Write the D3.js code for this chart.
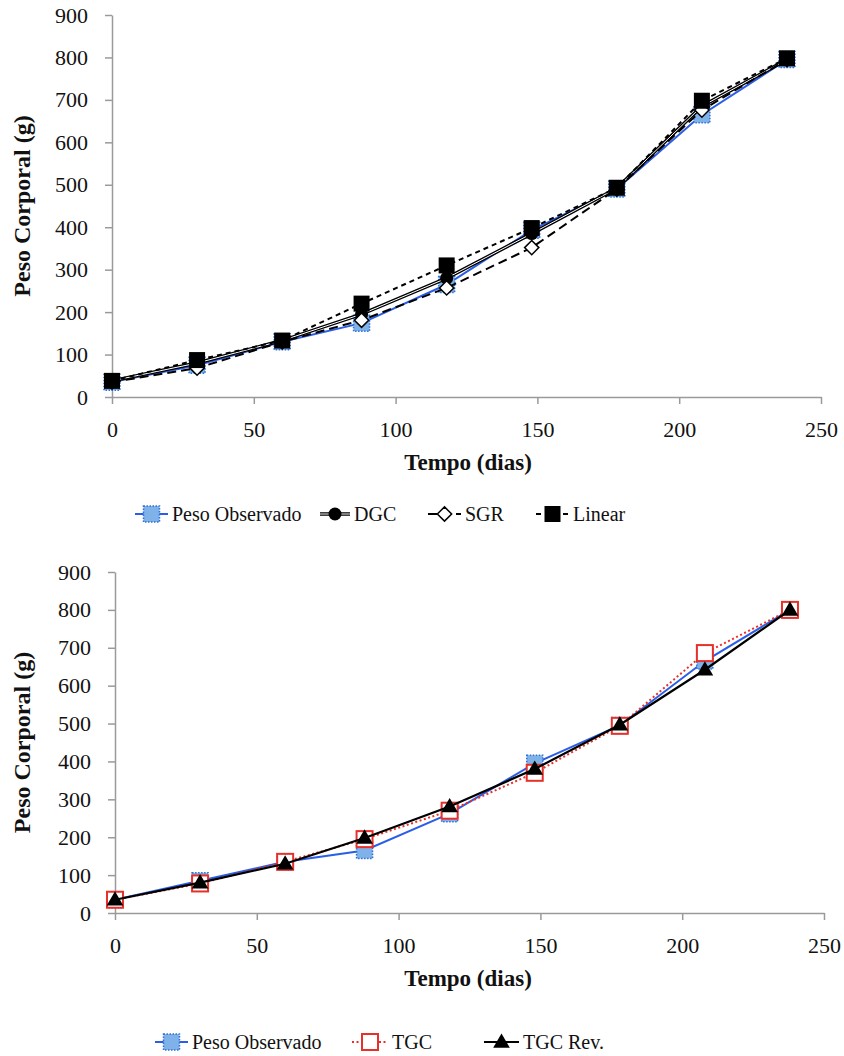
<!DOCTYPE html>
<html>
<head>
  <meta charset="utf-8">
  <script src="https://d3js.org/d3.v7.min.js"></script>
  <style>
    body { margin: 0; background: #fff; }
    svg text { font-family: "Liberation Serif", "DejaVu Serif", "Times New Roman", serif; fill: #111; }
    .axis path, .axis line { stroke: #9a9a9a; stroke-width: 1.5; }
    .title { font-weight: bold; }
  </style>
</head>
<body>
<div id="chart"></div>
<script>
// days of each weighing
var days = [0, 30, 60, 88, 118, 148, 178, 208, 238];

// top chart
var observedTop = [35, 75, 130, 174, 265, 393, 490, 665, 795];
var dgc = [38, 80, 133, 195, 280, 385, 492, 685, 795];
var sgr = [35, 68, 130, 181, 257, 352, 490, 676, 795];
var linear = [38, 87, 133, 220, 310, 398, 493, 698, 798];

// bottom chart
var observedBottom = [35, 85, 135, 165, 262, 395, 495, 665, 800];
var tgc = [35, 78, 135, 195, 270, 370, 494, 686, 800];
var tgcRev = [35, 80, 130, 198, 281, 380, 497, 642, 800];

var xTicks = [0, 50, 100, 150, 200, 250];
var yTicks = [0, 100, 200, 300, 400, 500, 600, 700, 800, 900];

var svg = d3.select("#chart").append("svg")
  .attr("width", 844)
  .attr("height", 1056);

// marker drawing
function drawMarker(g, kind, cx, cy) {
  if (kind == "obs") {
    g.append("rect").attr("x", cx - 8).attr("y", cy - 8).attr("width", 16).attr("height", 16)
      .attr("fill", "#7fb2e8").attr("stroke", "#2f6fd6").attr("stroke-width", 1.5)
      .attr("stroke-dasharray", "1.5,1.5");
  } else if (kind == "circle") {
    g.append("circle").attr("cx", cx).attr("cy", cy).attr("r", 6.5).attr("fill", "#000");
  } else if (kind == "diamond") {
    g.append("path").attr("d", d3.symbol(d3.symbolDiamond2, 130)())
      .attr("transform", "translate(" + cx + "," + cy + ")")
      .attr("fill", "#fff").attr("stroke", "#000").attr("stroke-width", 1.5);
  } else if (kind == "square") {
    g.append("rect").attr("x", cx - 8).attr("y", cy - 8).attr("width", 16).attr("height", 16)
      .attr("fill", "#000");
  } else if (kind == "redsq") {
    g.append("rect").attr("x", cx - 8).attr("y", cy - 8).attr("width", 16).attr("height", 16)
      .attr("fill", "#fff").attr("stroke", "#e8302a").attr("stroke-width", 2);
  } else if (kind == "tri") {
    g.append("path").attr("d", d3.symbol(d3.symbolTriangle, 120)())
      .attr("transform", "translate(" + cx + "," + (cy + 1) + ")")
      .attr("fill", "#000");
  }
}

function drawLineStyle(g, style, pathData) {
  if (style == "obs") {
    g.append("path").attr("d", pathData).attr("fill", "none").attr("stroke", "#2a5ee8").attr("stroke-width", 2);
  } else if (style == "double") {
    g.append("path").attr("d", pathData).attr("fill", "none").attr("stroke", "#000").attr("stroke-width", 3.5);
    g.append("path").attr("d", pathData).attr("fill", "none").attr("stroke", "#fff").attr("stroke-width", 1);
  } else if (style == "longdash") {
    g.append("path").attr("d", pathData).attr("fill", "none").attr("stroke", "#000").attr("stroke-width", 2)
      .attr("stroke-dasharray", "9,5");
  } else if (style == "shortdash") {
    g.append("path").attr("d", pathData).attr("fill", "none").attr("stroke", "#000").attr("stroke-width", 2)
      .attr("stroke-dasharray", "5,4");
  } else if (style == "reddot") {
    g.append("path").attr("d", pathData).attr("fill", "none").attr("stroke", "#e8302a").attr("stroke-width", 2)
      .attr("stroke-dasharray", "2,2.5");
  } else if (style == "solid") {
    g.append("path").attr("d", pathData).attr("fill", "none").attr("stroke", "#000").attr("stroke-width", 2.2);
  }
}

function buildChart(opts) {
  var x = d3.scaleLinear().domain([0, 250]).range([opts.left, opts.right]);
  var y = d3.scaleLinear().domain([0, 900]).range([opts.bottom, opts.top]);

  var g = svg.append("g");

  g.append("g").attr("class", "axis")
    .attr("transform", "translate(0," + opts.bottom + ")")
    .call(d3.axisBottom(x).tickValues(xTicks).tickSize(7).tickSizeOuter(0).tickPadding(17));

  g.append("g").attr("class", "axis")
    .attr("transform", "translate(" + opts.left + ",0)")
    .call(d3.axisLeft(y).tickValues(yTicks).tickSize(7).tickSizeOuter(0).tickPadding(17));

  g.selectAll(".axis text")
    .attr("fill", "#111")
    .style("font-size", "22px");

  g.append("text").attr("class", "title")
    .attr("transform", "translate(" + opts.yLabelX + "," + ((opts.top + opts.bottom) / 2) + ") rotate(-90)")
    .attr("text-anchor", "middle").attr("dy", "0.35em")
    .style("font-size", "24px")
    .text("Peso Corporal (g)");

  g.append("text").attr("class", "title")
    .attr("x", 468).attr("y", opts.xLabelY)
    .attr("text-anchor", "middle").attr("dy", "0.35em")
    .style("font-size", "23px")
    .text("Tempo (dias)");

  var line = d3.line()
    .x(function(d) { return x(d[0]); })
    .y(function(d) { return y(d[1]); });

  opts.series.forEach(function(s) {
    var pts = days.map(function(d, i) { return [d, s.values[i]]; });
    var sg = g.append("g");
    drawLineStyle(sg, s.line, line(pts));
    pts.forEach(function(p) {
      drawMarker(sg, s.marker, x(p[0]), y(p[1]));
    });
  });

  // legend
  var leg = g.append("g");
  opts.series.forEach(function(s, i) {
    var lx = opts.legendX[i];
    var ly = opts.legendY;
    var item = leg.append("g");
    var w = s.legW || 33;
    drawLineStyle(item, s.line, "M" + lx + "," + ly + "H" + (lx + w));
    drawMarker(item, s.marker, lx + w / 2, ly);
    item.append("text").attr("x", lx + w + 4).attr("y", ly).attr("dy", "0.35em")
      .style("font-size", "20px")
      .text(s.name);
  });
}

buildChart({
  left: 112, right: 821, top: 15, bottom: 397,
  yLabelX: 22, xLabelY: 462,
  legendY: 514, legendX: [135, 320, 428, 536],
  series: [
    { name: "Peso Observado", values: observedTop, line: "obs", marker: "obs" },
    { name: "DGC", values: dgc, line: "double", marker: "circle", legW: 30 },
    { name: "SGR", values: sgr, line: "longdash", marker: "diamond" },
    { name: "Linear", values: linear, line: "shortdash", marker: "square" }
  ]
});

buildChart({
  left: 115, right: 824, top: 572, bottom: 913,
  yLabelX: 22, xLabelY: 978,
  legendY: 1042, legendX: [155, 352, 484],
  series: [
    { name: "Peso Observado", values: observedBottom, line: "obs", marker: "obs" },
    { name: "TGC", values: tgc, line: "reddot", marker: "redsq", legW: 36 },
    { name: "TGC Rev.", values: tgcRev, line: "solid", marker: "tri", legW: 35 }
  ]
});
</script>
</body>
</html>
